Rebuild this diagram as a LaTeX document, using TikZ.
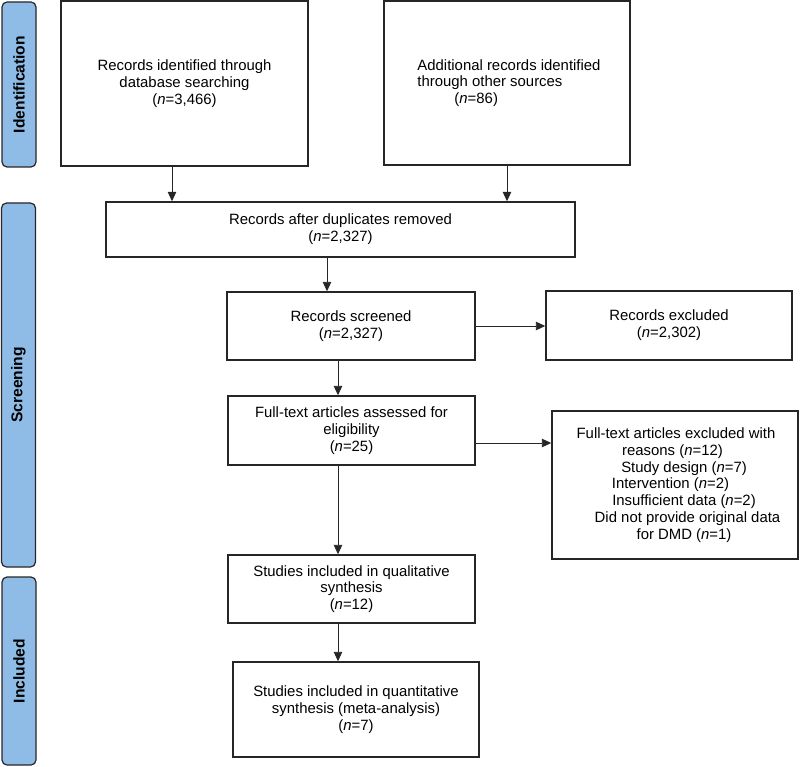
\documentclass[tikz,border=0pt]{standalone}
\usepackage{fontspec}
\setmainfont{Liberation Sans}
\usetikzlibrary{arrows.meta}
\definecolor{stageblue}{HTML}{8FBCE6}
\definecolor{boxline}{HTML}{262626}

\begin{document}
\begin{tikzpicture}[x=1pt, y=-1pt, >={Triangle[length=9.5pt,width=8.5pt]},
  every node/.style={font=\fontsize{14.9}{16.8}\selectfont, align=center, inner sep=2pt},
  flowbox/.style={draw=boxline, line width=1.4pt, fill=white},
  stage/.style={draw=boxline, line width=1.2pt, fill=stageblue, rounded corners=5pt, rotate=90,
    font=\fontsize{15.6}{17}\selectfont\bfseries, minimum height=34pt},
  link/.style={->, draw=boxline, line width=0.9pt}]
		\useasboundingbox (0,0) rectangle (800,767);

		\node[stage, minimum width=165pt] (ident) at (19,84.5) {Identification};
		\node[stage, minimum width=364pt] (screening) at (18.5,385) {Screening};
		\node[stage, minimum width=188pt] (incl) at (19,671) {Included};

		\node[flowbox, minimum width=247pt, minimum height=165pt] (recA) at (184.5,83.5)
			{Records identified through\\database searching\\(\textit{n}=3,466)};
		\node[flowbox, minimum width=246pt, minimum height=164pt, align=left] (recB) at (507,83)
			{\hspace*{4pt}Additional records identified\\\hspace*{4pt}through other sources\\\hspace*{41pt}(\textit{n}=86)};
		\node[flowbox, minimum width=469pt, minimum height=55pt] (dedup) at (340.5,229.5)
			{Records after duplicates removed\\(\textit{n}=2,327)};
		\node[flowbox, minimum width=248pt, minimum height=68pt] (screen) at (351,326)
			{Records screened\\(\textit{n}=2,327)};
		\node[flowbox, minimum width=246pt, minimum height=69pt] (excl) at (669,325.5)
			{Records excluded\\(\textit{n}=2,302)};
		\node[flowbox, minimum width=247pt, minimum height=69pt] (full) at (351.5,430.5)
			{Full-text articles assessed for\\eligibility\\(\textit{n}=25)};
		\node[flowbox, minimum width=246pt, minimum height=148pt] (reas) at (675,485)
			{\hspace*{2pt}Full-text articles excluded with\\
			\hspace*{-5pt}reasons (\textit{n}=12)\\
			\hspace*{18pt}Study design (\textit{n}=7)\\
			\hspace*{-9pt}Intervention (\textit{n}=2)\\
			\hspace*{18pt}Insufficient data (\textit{n}=2)\\
			\hspace*{25pt}Did not provide original data\\
			\hspace*{18pt}for DMD (\textit{n}=1)};
		\node[flowbox, minimum width=247pt, minimum height=68pt] (qual) at (351.5,589)
			{Studies included in qualitative\\synthesis\\(\textit{n}=12)};
		\node[flowbox, minimum width=246pt, minimum height=95pt] (quant) at (356,709.5)
			{Studies included in quantitative\\synthesis (meta-analysis)\\(\textit{n}=7)};

		\draw[link] ([xshift=-12.5pt]recA.south) -- ([xshift=-12.5pt]recA.south |- dedup.north);
		\draw[link] (recB.south) -- (recB.south |- dedup.north);
		\draw[link] ([xshift=-13.5pt]dedup.south) -- ([xshift=-13.5pt]dedup.south |- screen.north);
		\draw[link] (screen.east) -- (screen.east -| excl.west);
		\draw[link] ([xshift=-13pt]screen.south) -- ([xshift=-13pt]screen.south |- full.north);
		\draw[link] ([yshift=-12.5pt]full.east) -- ([yshift=-12.5pt]full.east -| reas.west);
		\draw[link] ([xshift=-13.5pt]full.south) -- ([xshift=-13.5pt]full.south |- qual.north);
		\draw[link] ([xshift=-13.5pt]qual.south) -- ([xshift=-13.5pt]qual.south |- quant.north);
\end{tikzpicture}
\end{document}
